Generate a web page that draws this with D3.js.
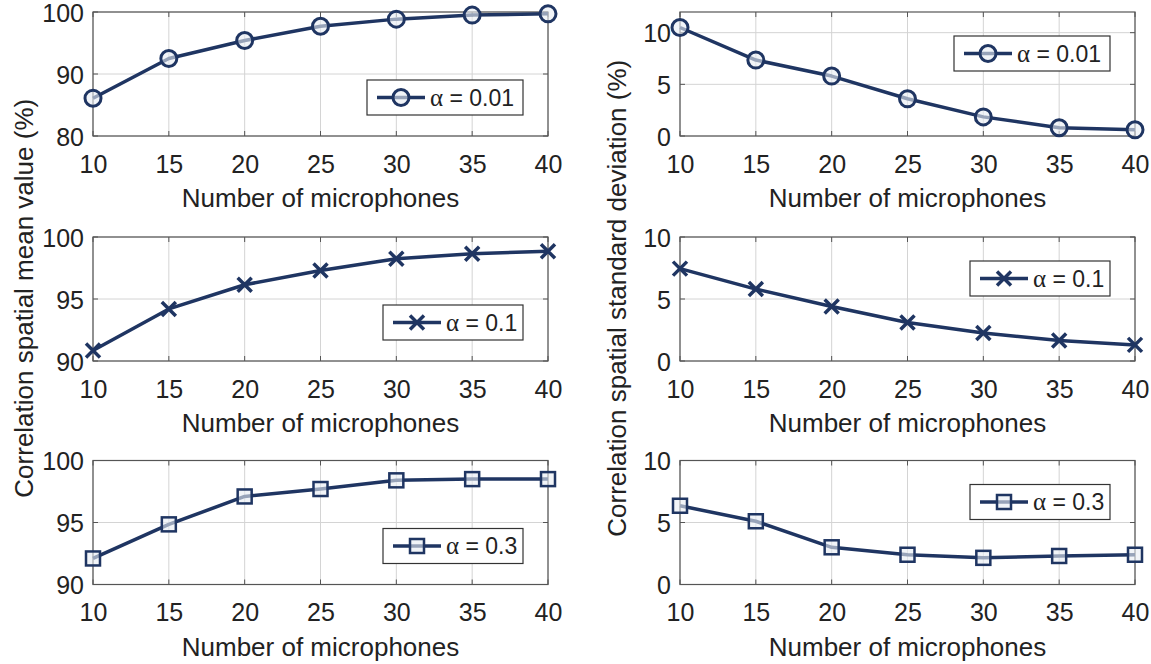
<!DOCTYPE html>
<html>
<head>
<meta charset="utf-8">
<script src="https://cdn.jsdelivr.net/npm/d3@7"></script>
<style>
  body { margin: 0; background: #fff; }
  text { font-family: "Liberation Sans", Arial, sans-serif; }
</style>
</head>
<body>
<div id="chart"></div>
<script>
// microphone counts along x
var mics = [10, 15, 20, 25, 30, 35, 40];

// spatial mean value (%)
var meanA001 = [86.1, 92.5, 95.4, 97.7, 98.85, 99.5, 99.7];
var meanA01  = [90.85, 94.2, 96.15, 97.3, 98.25, 98.65, 98.85];
var meanA03  = [92.1, 94.85, 97.1, 97.7, 98.4, 98.5, 98.5];

// spatial standard deviation (%)
var stdA001 = [10.5, 7.35, 5.8, 3.6, 1.85, 0.8, 0.6];
var stdA01  = [7.45, 5.8, 4.4, 3.1, 2.25, 1.65, 1.3];
var stdA03  = [6.35, 5.1, 3.0, 2.4, 2.15, 2.3, 2.4];

var alphas = ["0.01", "0.1", "0.3"];
var markers = ["circle", "cross", "square"];

var xTicks = [10, 15, 20, 25, 30, 35, 40];
var meanTicks = [[80, 90, 100], [90, 95, 100], [90, 95, 100]];
var stdTicks = [[0, 5, 10], [0, 5, 10], [0, 5, 10]];
var meanDomains = [[80, 100], [90, 100], [90, 100]];
var stdDomains = [[0, 12], [0, 10], [0, 10]];

var lineColor = "#1f3562";
var gridColor = "#d4d4d4";
var boxColor = "#555";

var W = 1151, H = 664;
var svg = d3.select("#chart").append("svg")
    .attr("width", W)
    .attr("height", H);

var colX = [93, 680], colW = 455;
var rowY = [12, 237, 460.5], rowH = 124;

var panels = [];
for (var i = 0; i < 3; i++) {
    panels.push({ col: 0, row: i, values: [meanA001, meanA01, meanA03][i], domain: meanDomains[i], ticks: meanTicks[i],
        alpha: alphas[i], marker: markers[i], legTop: 68 });
    panels.push({ col: 1, row: i, values: [stdA001, stdA01, stdA03][i], domain: stdDomains[i], ticks: stdTicks[i],
        alpha: alphas[i], marker: markers[i], legTop: 24 });
}
// legend widths differ with the label length
var legW = { "0.01": 156, "0.1": 140, "0.3": 140 };

function drawMarker(sel, type, cx, cy) {
    if (type == "circle") {
        sel.append("circle").attr("cx", cx).attr("cy", cy).attr("r", 8)
            .attr("fill", "#e8ecf4").attr("fill-opacity", 0.6)
            .attr("stroke", lineColor).attr("stroke-width", 3);
    } else if (type == "square") {
        sel.append("rect").attr("x", cx - 7).attr("y", cy - 7).attr("width", 14).attr("height", 14)
            .attr("fill", "#e8ecf4").attr("fill-opacity", 0.6)
            .attr("stroke", lineColor).attr("stroke-width", 2.5);
    } else {
        var s = 7;
        sel.append("path")
            .attr("d", "M" + (cx - s) + "," + (cy - s) + "L" + (cx + s) + "," + (cy + s) +
                       "M" + (cx - s) + "," + (cy + s) + "L" + (cx + s) + "," + (cy - s))
            .attr("stroke", lineColor).attr("stroke-width", 3.5).attr("fill", "none");
    }
}

panels.forEach(function(p) {
    var x0 = colX[p.col], y0 = rowY[p.row];
    var x = d3.scaleLinear().domain([10, 40]).range([x0, x0 + colW]);
    var y = d3.scaleLinear().domain(p.domain).range([y0 + rowH, y0]);
    var g = svg.append("g");

    // grid
    g.selectAll(".vg").data(xTicks).enter().append("line")
        .attr("x1", function(d) { return x(d); }).attr("x2", function(d) { return x(d); })
        .attr("y1", y0).attr("y2", y0 + rowH)
        .attr("stroke", gridColor).attr("stroke-width", 1);
    g.selectAll(".hg").data(p.ticks).enter().append("line")
        .attr("x1", x0).attr("x2", x0 + colW)
        .attr("y1", function(d) { return y(d); }).attr("y2", function(d) { return y(d); })
        .attr("stroke", gridColor).attr("stroke-width", 1);

    // axes
    var xAxis = d3.axisBottom(x).tickValues(xTicks).tickSize(0).tickPadding(19);
    var yAxis = d3.axisLeft(y).tickValues(p.ticks).tickSize(0).tickPadding(9);
    var gx = g.append("g").attr("transform", "translate(0," + (y0 + rowH) + ")").call(xAxis);
    var gy = g.append("g").attr("transform", "translate(" + x0 + ",0)").call(yAxis);
    [gx, gy].forEach(function(a) {
        a.select(".domain").remove();
        a.selectAll("text").style("font-size", "25px").attr("fill", "#222")
            .style("font-family", "'Liberation Sans', Arial, sans-serif");
    });
    gy.selectAll("text").attr("dy", "0.36em");

    // inward ticks
    g.selectAll(".xt").data(xTicks).enter().append("path")
        .attr("d", function(d) { return "M" + x(d) + "," + (y0 + rowH) + "v-5M" + x(d) + "," + y0 + "v5"; })
        .attr("stroke", boxColor).attr("stroke-width", 1);
    g.selectAll(".yt").data(p.ticks).enter().append("path")
        .attr("d", function(d) { return "M" + x0 + "," + y(d) + "h5M" + (x0 + colW) + "," + y(d) + "h-5"; })
        .attr("stroke", boxColor).attr("stroke-width", 1);

    // box
    g.append("rect").attr("x", x0).attr("y", y0).attr("width", colW).attr("height", rowH)
        .attr("fill", "none").attr("stroke", boxColor).attr("stroke-width", 1.2);

    // x label
    g.append("text").attr("x", x0 + colW / 2).attr("y", y0 + rowH + 71)
        .attr("text-anchor", "middle").style("font-size", "26px").attr("fill", "#222")
        .text("Number of microphones");

    // series
    var line = d3.line().x(function(d, i) { return x(mics[i]); }).y(function(d) { return y(d); });
    g.append("path").datum(p.values).attr("d", line)
        .attr("fill", "none").attr("stroke", lineColor).attr("stroke-width", 3.5)
        .attr("stroke-linejoin", "round");
    p.values.forEach(function(v, i) { drawMarker(g, p.marker, x(mics[i]), y(v)); });

    // legend
    var lw = legW[p.alpha], lh = 35;
    var lx = x0 + colW - 25 - lw, ly = y0 + p.legTop;
    g.append("rect").attr("x", lx).attr("y", ly).attr("width", lw).attr("height", lh)
        .attr("fill", "#fff").attr("stroke", "#333").attr("stroke-width", 1.2);
    g.append("line").attr("x1", lx + 10).attr("x2", lx + 58).attr("y1", ly + lh / 2).attr("y2", ly + lh / 2)
        .attr("stroke", lineColor).attr("stroke-width", 3.5);
    drawMarker(g, p.marker, lx + 34, ly + lh / 2);
    var t = g.append("text").attr("x", lx + 63).attr("y", ly + lh / 2 + 8)
        .style("font-size", "23px").attr("fill", "#222");
    t.append("tspan").style("font-family", "'Liberation Serif', 'Times New Roman', serif").style("font-size", "25px").text("α");
    t.append("tspan").text(" = " + p.alpha);
});

// shared y labels
svg.append("text")
    .attr("transform", "translate(33," + ((rowY[0] + rowY[2] + rowH) / 2) + ")rotate(-90)")
    .attr("text-anchor", "middle").style("font-size", "26px").attr("fill", "#222")
    .text("Correlation spatial mean value (%)");
svg.append("text")
    .attr("transform", "translate(626," + ((rowY[0] + rowY[2] + rowH) / 2) + ")rotate(-90)")
    .attr("text-anchor", "middle").style("font-size", "26px").attr("fill", "#222")
    .text("Correlation spatial standard deviation (%)");
</script>
</body>
</html>
